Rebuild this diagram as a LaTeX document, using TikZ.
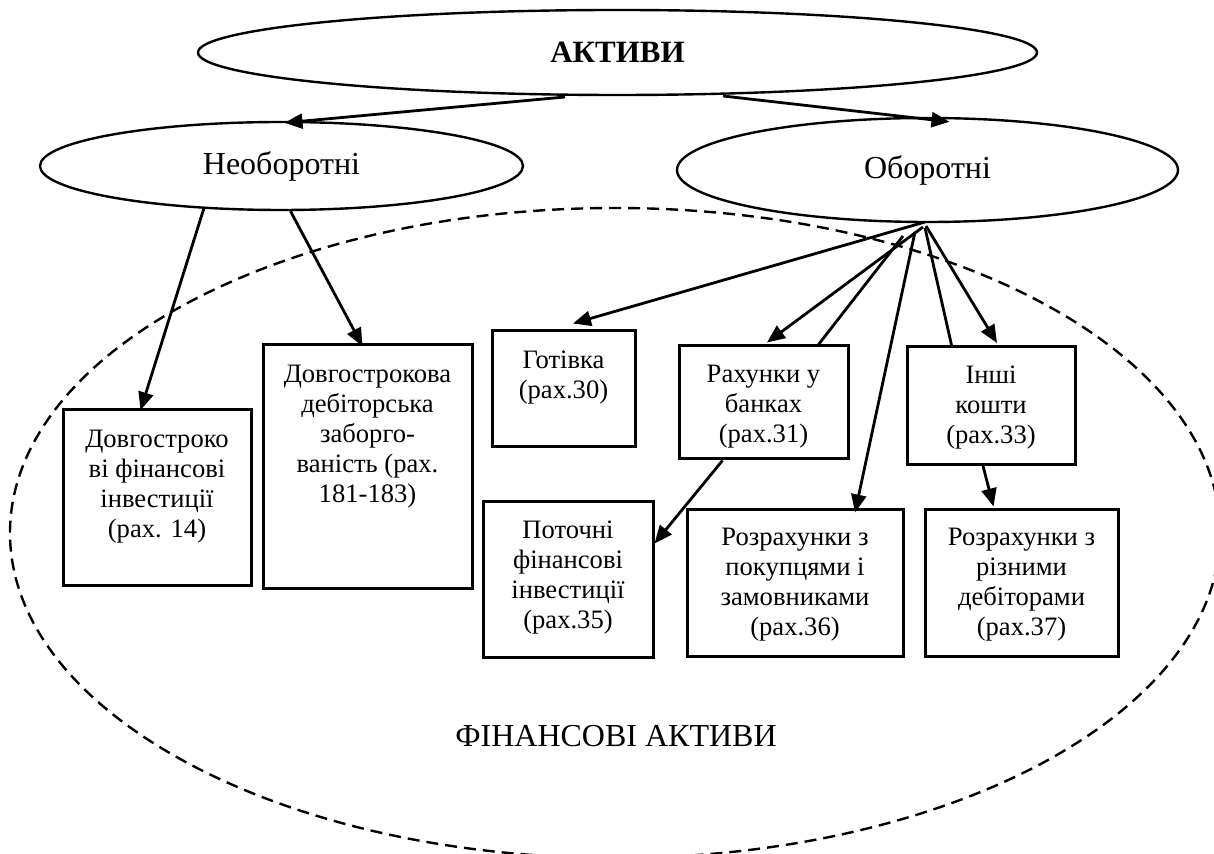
\documentclass[tikz,border=0pt]{standalone}
\usepackage{fontspec}
\setmainfont{Liberation Serif}
\usetikzlibrary{shapes.geometric,arrows.meta,calc}
\begin{document}
\begin{tikzpicture}[x=0.5pt,y=-0.5pt,
  oval/.style={draw,ellipse,line width=1.2pt,inner sep=0pt,fill=white,font=\fontsize{16}{19}\selectfont},
  dashoval/.style={draw,ellipse,line width=1.2pt,inner sep=0pt,dash pattern=on 6pt off 3.5pt},
  boxnode/.style={draw,rectangle,line width=1.5pt,fill=white,inner sep=0pt},
  boxtext/.style={anchor=north,align=center,inner sep=0pt,font=\fontsize{13.3}{15}\selectfont},
  conn/.style={line width=1.4pt},
  arr/.style={conn,-{Triangle[length=9pt,width=7.5pt]}},
]
\useasboundingbox (0,0) rectangle (1214,854);
\clip (0,0) rectangle (1214,854);

% dashed region
\node[dashoval,minimum width=605pt,minimum height=325pt] (fa) at (615,533) {};
\node[font=\fontsize{16}{19}\selectfont] (falabel) at (616,736) {ФІНАНСОВІ АКТИВИ};

% ellipses
\node[oval,minimum width=419.5pt,minimum height=42.5pt,font=\fontsize{15.5}{18}\selectfont\bfseries] (akt) at (617.5,52.5) {АКТИВИ};
\node[oval,minimum width=241.5pt,minimum height=44pt] (neob) at (281.5,166) {Необоротні};
\node[oval,minimum width=250.5pt,minimum height=52pt] (ob) at (927.5,170) {Оборотні};

% connector start points
\coordinate (a1) at (565,97);
\coordinate (a2) at (723,96);
\coordinate (n1) at (204,208);
\coordinate (hub) at (925,222);
\coordinate (h2) at (903,236);
\coordinate (h3) at (915,232);

% connectors
\draw[arr] (a1) -- ($(neob.north)+(3,2)$);
\draw[arr] (a2) -- ($(ob.north)+(22,5)$);
\draw[arr] (n1) -- ($(neob.south)+(-141,199)$);
\draw[arr] ($(neob.south)+(9,0)$) -- ($(neob.south)+(81,135)$);

% boxes
\node[boxnode,minimum width=94pt,minimum height=88pt] (b1) at (157,498) {};
\node[boxnode,minimum width=104.5pt,minimum height=122pt] (b2) at (367.5,467) {};
\node[boxnode,minimum width=71.5pt,minimum height=58pt] (gt) at (563.5,389) {};
\node[boxnode,minimum width=84.5pt,minimum height=56.5pt] (rb) at (763.5,402.5) {};
\node[boxnode,minimum width=84pt,minimum height=59pt] (ik) at (991,405.5) {};
\node[boxnode,minimum width=85pt,minimum height=77.5pt] (pf) at (568,579.5) {};
\node[boxnode,minimum width=108pt,minimum height=73pt] (rp) at (795,583) {};
\node[boxnode,minimum width=96.5pt,minimum height=73pt] (rr) at (1021.5,583) {};

% box texts
\node[boxtext] (t1) at ($(b1.north)+(0,21)$) {Довгостроко\\ві фінансові\\інвестиції\\(рах. 14)};
\node[boxtext] (t2) at ($(b2.north)+(0,21)$) {Довгострокова\\дебіторська\\заборго-\\ваність (рах.\\181-183)};
\node[boxtext] (t3) at ($(gt.north)+(0,21)$) {Готівка\\(рах.30)};
\node[boxtext] (t4) at ($(rb.north)+(0,20)$) {Рахунки у\\банках\\(рах.31)};
\node[boxtext] (t5) at ($(ik.north)+(0,20)$) {Інші\\кошти\\(рах.33)};
\node[boxtext] (t6) at ($(pf.north)+(0,20)$) {Поточні\\фінансові\\інвестиції\\(рах.35)};
\node[boxtext] (t7) at ($(rp.north)+(0,19)$) {Розрахунки з\\покупцями і\\замовниками\\(рах.36)};
\node[boxtext] (t8) at ($(rr.north)+(0,19)$) {Розрахунки з\\різними\\дебіторами\\(рах.37)};

% connectors from Оборотні
\draw[arr] (hub) -- ($(gt.north)+(9.5,-6)$);
\draw[arr] ($(hub)+(-2,5)$) -- ($(rb.north)+(3.5,-2)$);
\draw[conn] (h2) -- ($(rb.north east)+(-31,0)$);
\draw[arr] ($(rb.south)+(-41,0)$) -- ($(pf.east)+(0,-36)$);
\draw[arr] (h3) -- ($(rp.north)+(60,4)$);
\draw[conn] ($(hub)+(0,6)$) -- ($(ik.north west)+(46,0)$);
\draw[arr] ($(hub)+(1,4)$) -- ($(ik.north)+(6,-2)$);
\draw[arr] ($(ik.south)+(-8,0)$) -- ($(rr.north)+(-28,-2)$);
\end{tikzpicture}
\end{document}
